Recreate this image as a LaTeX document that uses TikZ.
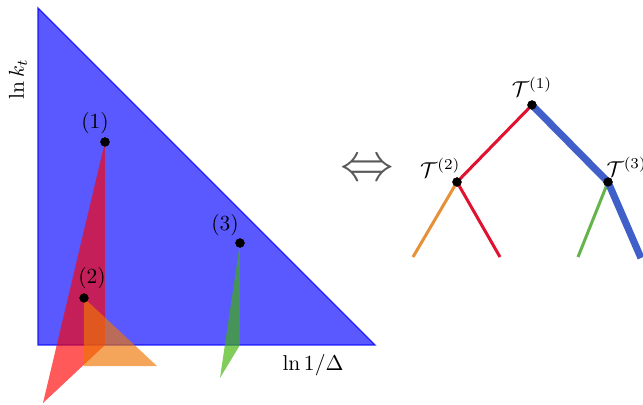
\documentclass[tikz,border=0pt]{standalone}
\usepackage{amsmath}
\usepackage{amssymb}
\usepackage{tikz}
\usetikzlibrary{positioning, calc}
\definecolor{planeBlue}{HTML}{0000FF}
\definecolor{leafRed}{HTML}{FF0000}
\definecolor{leafOrange}{HTML}{F07500}
\definecolor{leafGreen}{HTML}{3CB400}
\definecolor{branchRed}{HTML}{E0122F}
\definecolor{branchOrange}{HTML}{E69137}
\definecolor{branchGreen}{HTML}{64B44B}
\definecolor{branchBlue}{HTML}{415FC8}

\begin{document}
\begin{tikzpicture}[
    x=0.465pt, y=-0.465pt,
    plane/.style={fill opacity=0.65, draw opacity=0.8, line width=0.6pt},
    emission/.style={circle, fill=black, inner sep=0pt, minimum size=4.3pt},
    lbl/.style={font=\normalsize, inner sep=1pt},
    branch/.style={line width=1.4pt},
    hard/.style={line width=3.3pt},
]
\useasboundingbox (0,0) rectangle (643,404);

% primary plane and secondary leaves
\coordinate (top)   at (38,8);
\coordinate (orig)  at (38,345);
\coordinate (right) at (375,345);
\filldraw[plane, fill=planeBlue, draw=planeBlue] (top) -- (orig) -- (right) -- cycle;

\node[emission] (e1) at (105,142) {};
\node[emission] (e2) at (84,298) {};
\node[emission] (e3) at (240,243) {};

\fill[leafRed, fill opacity=0.65] (e1.center) -- (105,345) -- (43,403) -- cycle;
\fill[leafOrange, fill opacity=0.65] (e2.center) -- (84,366) -- (157,366) -- cycle;
\fill[leafGreen, fill opacity=0.65] (e3.center) -- (240,345) -- (220,378) -- cycle;

\node[emission] at (e1) {};
\node[emission] at (e2) {};
\node[emission] at (e3) {};

\node[lbl] (l1) at (95,123) {$(1)$};
\node[lbl] (l2) at (92,278) {$(2)$};
\node[lbl] (l3) at (225,225) {$(3)$};

\node[lbl, rotate=90] (kt) at (18,79) {$\ln k_t$};
\node[lbl] (delta) at (313,365) {$\ln 1/\Delta$};

\node[text=black!65, font=\Huge] (equiv) at (367,171) {$\Leftrightarrow$};

% declustering tree
\node[emission] (t1) at (532,105) {};
\node[emission] (t2) at (457,182) {};
\node[emission] (t3) at (608,182) {};
\coordinate (leafA) at (413,257);
\coordinate (leafB) at (500,257);
\coordinate (leafC) at (578,257);
\coordinate (leafD) at (641,258);

\draw[branch, branchRed] (t1.center) -- (t2.center) -- (leafB);
\draw[branch, branchOrange] (t2.center) -- (leafA);
\draw[branch, branchGreen] (t3.center) -- (leafC);
\draw[hard, branchBlue] (t1.center) -- (t3.center) -- (leafD);

\node[emission] at (t1) {};
\node[emission] at (t2) {};
\node[emission] at (t3) {};

\node[lbl, above=0.5pt of t1] {$\mathcal{T}^{(1)}$};
\node[lbl, anchor=south east] at ($(t2)+(6,-2)$) {$\mathcal{T}^{(2)}$};
\node[lbl, anchor=south west] at ($(t3)+(-4,-3)$) {$\mathcal{T}^{(3)}$};
\end{tikzpicture}
\end{document}
